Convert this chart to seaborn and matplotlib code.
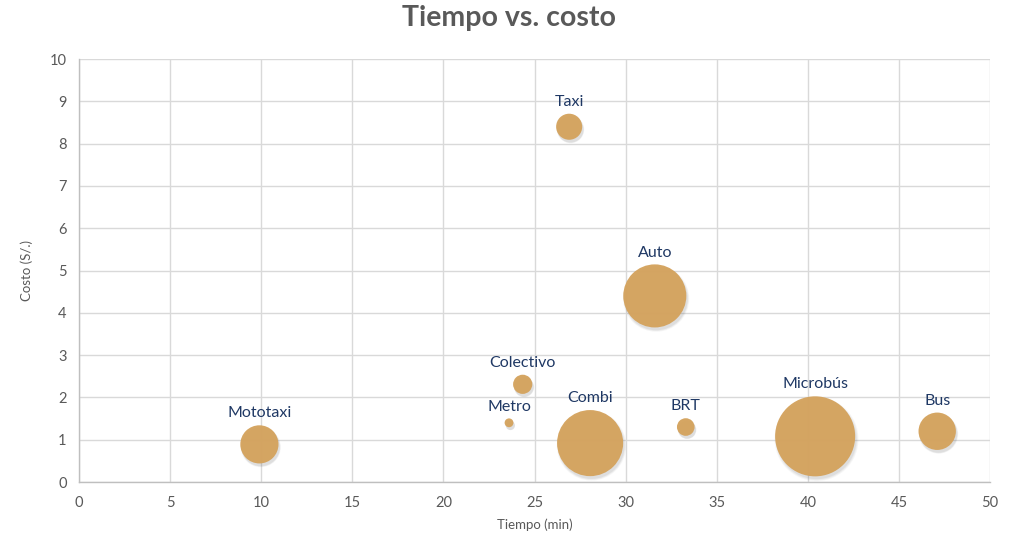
import matplotlib
matplotlib.use("Agg")
import matplotlib.pyplot as plt
import matplotlib.transforms as mtransforms
from matplotlib.ticker import MultipleLocator
import seaborn as sns
import pandas as pd
import numpy as np

modos = ["Mototaxi", "Metro", "Colectivo", "Taxi", "Combi", "Auto", "BRT", "Microbús", "Bus"]
tiempo = [9.9, 23.6, 24.35, 26.9, 28.05, 31.6, 33.3, 40.4, 47.1]
costo = [0.89, 1.40, 2.31, 8.40, 0.92, 4.40, 1.30, 1.08, 1.20]
participacion = [7.5, 0.4, 1.9, 3.5, 22.5, 20.5, 1.6, 33.0, 7.2]

df = pd.DataFrame({"Modo": modos, "Tiempo": tiempo, "Costo": costo, "Part": participacion})

sns.set_theme(style="white")
plt.rcParams['font.family'] = ['Lato', 'DejaVu Sans']

fig = plt.figure(figsize=(10.17, 5.37), dpi=100)
ax = fig.add_axes([0.0777, 0.1024, 0.9735 - 0.0777, 0.890 - 0.1024])

SMAX = 3320
bubble = "#D4A35E"

# soft shadow
for k, a in [(1.10, 0.06), (1.05, 0.08), (1.0, 0.10)]:
    shadow_tr = mtransforms.offset_copy(ax.transData, fig=fig, x=1.0, y=-2.0, units='points')
    ax.scatter(df["Tiempo"], df["Costo"], s=np.array(participacion) / 33.0 * SMAX * k,
               color="#6f6f6f", alpha=a, linewidths=0, transform=shadow_tr, zorder=2)

sns.scatterplot(data=df, x="Tiempo", y="Costo", size="Part", sizes=(0, SMAX),
                size_norm=(0, 33.0), color=bubble, alpha=0.97, edgecolor="none",
                legend=False, ax=ax, zorder=3)

for m, x, y, p in zip(modos, tiempo, costo, participacion):
    r_pt = np.sqrt(p / 33.0 * SMAX) / 2
    ax.annotate(m, (x, y), xytext=(0, r_pt + 3.5), textcoords="offset points",
                ha="center", va="bottom", fontsize=11.5, color="#1F3864", zorder=5)

ax.set_xlim(0, 50)
ax.set_ylim(0, 10)
ax.xaxis.set_major_locator(MultipleLocator(5))
ax.yaxis.set_major_locator(MultipleLocator(1))
ax.xaxis.set_minor_locator(MultipleLocator(1))
ax.yaxis.set_minor_locator(MultipleLocator(0.2))
ax.grid(True, which="major", color="#D9D9D9", linewidth=1.0)
ax.set_axisbelow(True)

for s in ["top", "right"]:
    ax.spines[s].set_visible(False)
for s in ["left", "bottom"]:
    ax.spines[s].set_color("#BFBFBF")
    ax.spines[s].set_linewidth(1.0)

ax.tick_params(axis="both", which="major", length=0, labelsize=10.5, labelcolor="#595959", pad=9)
ax.tick_params(axis="both", which="minor", direction="in", length=4, color="#BFBFBF", width=0.8)
ax.tick_params(axis="x", which="major", pad=10)

ax.set_xlabel("Tiempo (min)", fontsize=9.5, color="#595959", labelpad=6)
ax.set_ylabel("Costo (S/.)", fontsize=9.5, color="#595959", labelpad=12)

fig.suptitle("Tiempo vs. costo", x=0.5, y=0.99, fontsize=20.5, fontweight="bold", color="#595959")

fig.savefig("out.png", dpi=100)
